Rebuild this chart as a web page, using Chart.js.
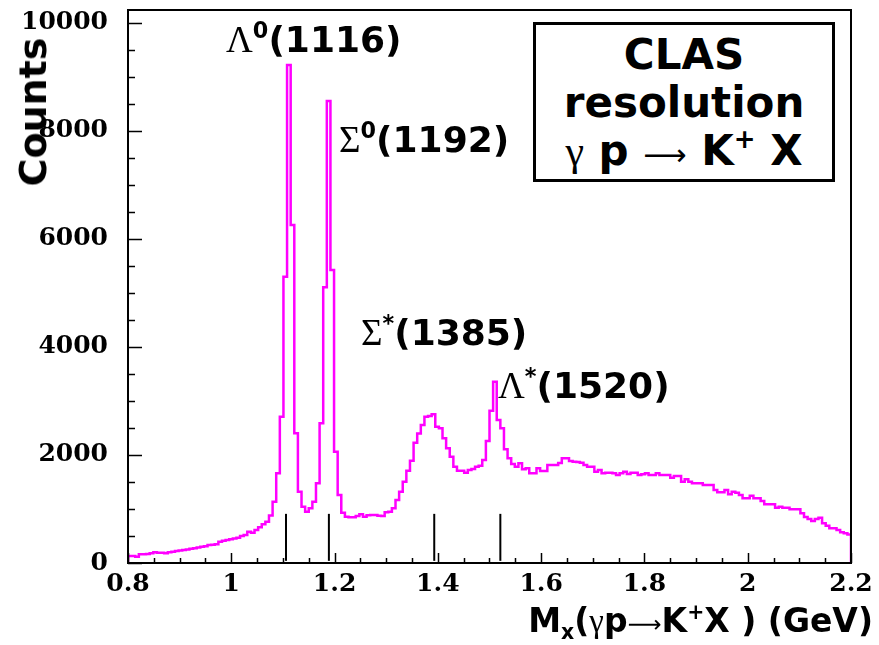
<!DOCTYPE html>
<html>
<head>
<meta charset="utf-8">
<script src="https://cdn.jsdelivr.net/npm/chart.js@4.4.1/dist/chart.umd.min.js"></script>
<style>
  html, body { margin: 0; padding: 0; background: #fff; }
  #wrap { position: relative; width: 879px; height: 645px; overflow: hidden; }
  #massChart { position: absolute; left: 0; top: 0; }
  .txt { position: absolute; white-space: nowrap; font-family: "DejaVu Sans", sans-serif;
         font-weight: bold; color: #000; line-height: 1; }
  .gk { font-family: "Liberation Serif", serif; font-weight: normal; }
  .arr { font-family: "DejaVu Sans", sans-serif; font-weight: normal; font-size: 0.72em; }
  .sup { position: relative; font-size: 0.62em; top: -0.65em; }
  .sub { position: relative; font-size: 0.62em; top: 0.35em; }
  #yTitle { left: 33px; top: 112px; font-size: 38px; transform: translate(-50%, -50%) rotate(-90deg); }
  #xTitle { right: 6px; top: 604px; font-size: 33px; }
  .peak { font-size: 36px; }
  .peak .gk { font-size: 37px; }
  #clasBox { position: absolute; left: 533px; top: 22px; width: 302px; height: 160px;
             box-sizing: border-box; border: 3px solid #000; background: #fff;
             font-family: "DejaVu Sans", sans-serif; font-weight: bold; font-size: 42px;
             line-height: 48px; text-align: center; padding-top: 6px; }
</style>
</head>
<body>
<div id="wrap">
  <canvas id="massChart" width="879" height="645"></canvas>
  <div class="txt" id="yTitle">Counts</div>
  <div class="txt" id="xTitle">M<span class="sub">x</span>(<span class="gk">γ</span>p<span class="arr">⟶</span>K<span class="sup">+</span>X ) (GeV)</div>
  <div class="txt peak" style="left:226px; top:21px"><span class="gk">Λ</span><span class="sup">0</span>(1116)</div>
  <div class="txt peak" style="left:339px; top:121px"><span class="gk">Σ</span><span class="sup">0</span>(1192)</div>
  <div class="txt peak" style="left:361px; top:314px"><span class="gk">Σ</span><span class="sup">*</span>(1385)</div>
  <div class="txt peak" style="left:498px; top:367px"><span class="gk">Λ</span><span class="sup">*</span>(1520)</div>
  <div id="clasBox">
    <div>CLAS</div>
    <div>resolution</div>
    <div><span class="gk">γ</span> p <span class="arr">⟶</span> K<span class="sup">+</span> X</div>
  </div>
</div>
<script>
// missing-mass histogram, 200 bins between 0.8 and 2.2 GeV
const massLow = 0.8;
const massHigh = 2.2;
const binWidth = 0.007;

const counts = [
  130, 130, 117, 160, 160, 165, 179, 198, 190, 190,
  179, 198, 210, 222, 230, 241, 250, 262, 272, 285,
  302, 310, 333, 340, 346, 395, 414, 425, 438, 455,
  469, 500, 519, 580, 562, 611, 660, 716, 765, 880,
  1136, 1660, 2710, 5302, 9220, 6259, 2401, 1321, 1043, 951,
  1012, 1136, 1475, 2587, 5105, 8556, 5426, 2062, 1259, 932,
  858, 846, 846, 870, 901, 858, 883, 889, 889, 877,
  870, 938, 951, 1012, 1167, 1321, 1506, 1710, 1895, 2228,
  2400, 2556, 2710, 2720, 2753, 2525, 2494, 2309, 2123, 1969,
  1784, 1710, 1710, 1673, 1722, 1741, 1784, 1800, 1907, 2259,
  2821, 3357, 2650, 2494, 2105, 1938, 1833, 1784, 1846, 1735,
  1753, 1660, 1660, 1753, 1704, 1704, 1815, 1815, 1815, 1850,
  1938, 1938, 1889, 1877, 1870, 1858, 1815, 1784, 1784, 1691,
  1722, 1660, 1673, 1673, 1660, 1630, 1660, 1691, 1648, 1673,
  1673, 1630, 1645, 1660, 1630, 1630, 1660, 1630, 1630, 1630,
  1580, 1611, 1611, 1506, 1549, 1506, 1475, 1475, 1475, 1444,
  1444, 1444, 1352, 1309, 1309, 1352, 1272, 1321, 1300, 1259,
  1198, 1198, 1247, 1198, 1198, 1148, 1086, 1086, 1086, 1025,
  1043, 1025, 1025, 994, 994, 994, 920, 850, 815, 778,
  815, 839, 735, 692, 642, 642, 611, 568, 549, 530
];

// hyperon mass markers under the peaks
const markerMass = [1.106, 1.189, 1.393, 1.521];
const markerLow = 40;
const markerHigh = 910;

const xTickValues = [0.8, 1.0, 1.2, 1.4, 1.6, 1.8, 2.0, 2.2];
const yTickValues = [0, 2000, 4000, 6000, 8000, 10000];
const yMax = 10240;

// step outline: start on the axis, one point per lower bin edge, back to the axis at the end
const histPoints = [{ x: massLow, y: 0 }];
counts.forEach((c, i) => histPoints.push({ x: massLow + i * binWidth, y: c }));
histPoints.push({ x: massHigh, y: 0 });

const markerSets = markerMass.map(m => ({
  data: [{ x: m, y: markerLow }, { x: m, y: markerHigh }],
  borderColor: '#000',
  borderWidth: 2,
  pointRadius: 0
}));

// ROOT style frame with inward tick marks
const frameTicks = {
  id: 'frameTicks',
  afterDatasetsDraw(chart) {
    const { ctx, chartArea: a, scales: { x, y } } = chart;
    ctx.save();
    ctx.strokeStyle = '#000';
    ctx.lineWidth = 2;
    ctx.strokeRect(a.left, a.top, a.right - a.left, a.bottom - a.top);
    ctx.beginPath();
    for (let v = 0; v <= 10000; v += 500) {
      const py = Math.round(y.getPixelForValue(v)) + 0.5;
      const len = v % 2000 === 0 ? 14 : 7;
      ctx.moveTo(a.left, py);
      ctx.lineTo(a.left + len, py);
    }
    for (let i = 0; i <= 28; i++) {
      const px = Math.round(x.getPixelForValue(massLow + i * 0.05)) + 0.5;
      const len = i % 4 === 0 ? 10 : 5;
      ctx.moveTo(px, a.bottom);
      ctx.lineTo(px, a.bottom - len);
    }
    ctx.lineWidth = 1.5;
    ctx.stroke();
    ctx.restore();
  }
};

const tickFont = { family: '"DejaVu Serif", serif', weight: 'bold', size: 25 };

new Chart(document.getElementById('massChart'), {
  type: 'line',
  data: {
    datasets: [{
      data: histPoints,
      stepped: 'before',
      borderColor: '#ff00ff',
      borderWidth: 2.5,
      pointRadius: 0,
      fill: false
    }, ...markerSets]
  },
  options: {
    responsive: false,
    animation: false,
    layout: { padding: { top: 10, right: 28, left: 0, bottom: 0 } },
    plugins: { legend: { display: false }, tooltip: { enabled: false } },
    scales: {
      x: {
        type: 'linear',
        min: massLow,
        max: massHigh,
        grid: { display: false, drawTicks: false },
        border: { display: false },
        ticks: {
          font: tickFont,
          color: '#000',
          padding: 6,
          maxRotation: 0,
          autoSkip: false,
          callback: v => String(Math.round(v * 10) / 10)
        },
        afterBuildTicks: s => { s.ticks = xTickValues.map(v => ({ value: v })); },
        afterFit: s => { s.height = 82; s.paddingLeft = 0; s.paddingRight = 0; }
      },
      y: {
        min: 0,
        max: yMax,
        grid: { display: false, drawTicks: false },
        border: { display: false },
        ticks: { font: tickFont, color: '#000', padding: 20, callback: v => String(v) },
        afterBuildTicks: s => { s.ticks = yTickValues.map(v => ({ value: v })); },
        afterFit: s => { s.width = 128; s.paddingTop = 0; s.paddingBottom = 0; }
      }
    }
  },
  plugins: [frameTicks]
});
</script>
</body>
</html>
